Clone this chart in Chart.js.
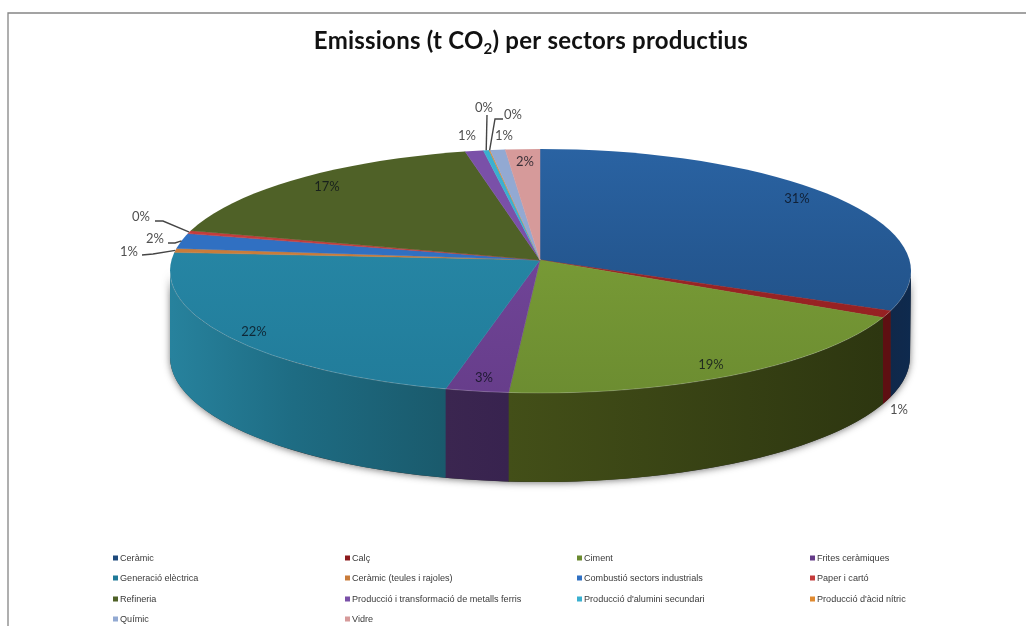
<!DOCTYPE html>
<html>
<head>
<meta charset="utf-8">
<title>Emissions per sectors productius</title>
<script src="https://cdn.jsdelivr.net/npm/chart.js@4"></script>
<style>
  html, body { margin: 0; padding: 0; background: #fff; overflow: hidden; }
  canvas { display: block; filter: blur(0.35px); }
</style>
</head>
<body>
<canvas id="chart" width="1026" height="626"></canvas>
<script>
  // Sectors, in the order the slices run clockwise from the top
  const categories = ['Ceràmic', 'Calç', 'Ciment', 'Frites ceràmiques', 'Generació elèctrica',
    'Ceràmic (teules i rajoles)', 'Combustió sectors industrials', 'Paper i cartó', 'Refineria',
    'Producció i transformació de metalls ferris', "Producció d'alumini secundari",
    "Producció d'àcid nítric", 'Químic', 'Vidre'];
  // Percent of emissions
  const shares = [31.1, 0.85, 19.4, 2.75, 22, 0.6, 2.2, 0.45, 17.4, 0.8, 0.25, 0.05, 0.65, 1.5];

  // Top face colours (back of the pie, front of the pie)
  const faceBack = ['#2b65a6', '#ab3030', '#84a93b', '#7a4ca6', '#2b8fae', '#c97c3a', '#3070c2',
    '#c43c3c', '#4f6127', '#7a50a8', '#3ab0d0', '#e08a30', '#92a9d2', '#d69a9a'];
  const faceFront = ['#1e4a7c', '#8c1a1c', '#6a8a30', '#653c88', '#207a98', '#c97c3a', '#3070c2',
    '#c43c3c', '#4f6127', '#7a50a8', '#3ab0d0', '#e08a30', '#92a9d2', '#d69a9a'];
  // Side wall colours, only the slices that reach the front need them
  const wallStart = ['#0e2a4e', '#5e0f12', '#2d3610', '#38234f', '#1a5a6c'];
  const wallEnd = ['#10284a', '#5e0f12', '#434f18', '#3b2650', '#27829d'];

  // The slices meet at the apex, which sits above the middle of the rim (perspective)
  const APEX_X = 540, APEX_Y = 260;
  const SLOPE_BACK = 0.3, SLOPE_FRONT = 0.36;
  // Rim of the top face and bottom edge of the wall
  const RIM_X = 540.5, RIM_Y = 271, RIM_RX = 370.5, RIM_RY = 122;
  const BOT_X = 540, BOT_Y = 357, BOT_RX = 370, BOT_RY = 125;

  // Label centres, and the bends of the leader lines for the small slices
  const labelPos = [[797, 199], [899, 410], [711, 365], [484, 378], [254, 332], [129, 252], [155, 239],
    [141, 217], [327, 187], [467, 136], [484, 108], [513, 115], [504, 136], [525, 162]];
  const leaderBends = {
    5: [[142, 255], [153, 254]],
    6: [[168, 243], [175, 243]],
    7: [[155, 221], [163, 221]],
    10: [[487, 115]],
    11: [[503, 119], [495, 119]]
  };
  const outsideLabels = [1, 5, 6, 7, 9, 10, 11, 12];

  const legendCols = [115, 347, 579, 812];
  const legendRows = [558, 578, 599, 619];

  // Where the ray from the apex at slice angle a hits the rim, as an ellipse angle
  function rimAngle(a) {
    const dx = Math.cos(a);
    const dy = Math.sin(a) * (Math.sin(a) > 0 ? SLOPE_FRONT : SLOPE_BACK);
    const px = (APEX_X - RIM_X) / RIM_RX, py = (APEX_Y - RIM_Y) / RIM_RY;
    const ux = dx / RIM_RX, uy = dy / RIM_RY;
    const A = ux * ux + uy * uy, B = 2 * (px * ux + py * uy), C = px * px + py * py - 1;
    const s = (-B + Math.sqrt(B * B - 4 * A * C)) / (2 * A);
    let t = Math.atan2(py + s * uy, px + s * ux);
    if (a > Math.PI / 2 && t < 0) t += Math.PI * 2;
    return t;
  }

  function rimPoint(t) {
    return [RIM_X + RIM_RX * Math.cos(t), RIM_Y + RIM_RY * Math.sin(t)];
  }

  function wallPath(ctx, t0, t1) {
    const cosOf = t => Math.max(-1, Math.min(1, (rimPoint(t)[0] - BOT_X) / BOT_RX));
    ctx.beginPath();
    ctx.ellipse(RIM_X, RIM_Y, RIM_RX, RIM_RY, 0, t0, t1);
    ctx.ellipse(BOT_X, BOT_Y, BOT_RX, BOT_RY, 0, Math.acos(cosOf(t1)), Math.acos(cosOf(t0)), true);
    ctx.closePath();
  }

  function drawWalls(ctx, arcs) {
    // soft shadow under the front wall
    ctx.save();
    ctx.shadowColor = 'rgba(50,50,50,0.65)';
    ctx.shadowBlur = 7;
    ctx.shadowOffsetY = 1;
    ctx.fillStyle = '#333';
    wallPath(ctx, 0, Math.PI);
    ctx.fill();
    ctx.restore();

    arcs.forEach((arc, i) => {
      const t0 = Math.max(rimAngle(arc.startAngle), 0);
      const t1 = Math.min(rimAngle(arc.endAngle), Math.PI);
      if (t1 <= t0) return;
      const grad = ctx.createLinearGradient(rimPoint(t0)[0], 0, rimPoint(t1)[0], 0);
      grad.addColorStop(0, wallStart[i]);
      if (i === 4) grad.addColorStop(0.55, '#1e6c83');
      grad.addColorStop(1, wallEnd[i]);
      ctx.fillStyle = grad;
      wallPath(ctx, t0, t1 + 0.002);
      ctx.fill();
    });
  }

  // The back half and the front half are flattened by different amounts so the
  // slice edges fall like in the original, the rim ellipse then trims the outline
  function drawFaces(ctx, arcs) {
    const first = arcs[0];
    const r = first.outerRadius;
    const reach = 450 / r;
    const halves = [
      { y: APEX_Y - 0.25, h: 300, slope: SLOPE_FRONT },
      { y: APEX_Y - 200, h: 200, slope: SLOPE_BACK }
    ];
    ctx.save();
    ctx.beginPath();
    ctx.ellipse(RIM_X, RIM_Y, RIM_RX, RIM_RY, 0, 0, Math.PI * 2);
    ctx.clip();
    halves.forEach(half => {
      ctx.save();
      ctx.beginPath();
      ctx.rect(0, half.y, 1026, half.h);
      ctx.clip();
      ctx.translate(APEX_X, APEX_Y);
      ctx.scale(reach, reach * half.slope);
      ctx.translate(-first.x, -first.y);
      arcs.forEach(arc => arc.draw(ctx));
      ctx.restore();
    });
    ctx.restore();
    // thin light line along the front edge of the top face
    ctx.strokeStyle = 'rgba(255,255,255,0.2)';
    ctx.lineWidth = 1;
    ctx.beginPath();
    ctx.ellipse(RIM_X, RIM_Y, RIM_RX, RIM_RY, 0, 0.05, Math.PI);
    ctx.stroke();
  }

  function drawLabels(ctx, arcs) {
    const total = shares.reduce((a, b) => a + b, 0);
    ctx.strokeStyle = '#454545';
    ctx.lineWidth = 1.4;
    Object.keys(leaderBends).forEach(k => {
      const arc = arcs[k];
      const end = rimPoint(rimAngle((arc.startAngle + arc.endAngle) / 2));
      const pts = leaderBends[k].concat([end]);
      ctx.beginPath();
      pts.forEach((p, n) => n ? ctx.lineTo(p[0], p[1]) : ctx.moveTo(p[0], p[1]));
      ctx.stroke();
    });
    ctx.font = '13px Lato';
    ctx.textAlign = 'center';
    ctx.textBaseline = 'middle';
    shares.forEach((v, i) => {
      ctx.fillStyle = outsideLabels.includes(i) ? '#505050' : 'rgba(10,15,25,0.78)';
      ctx.fillText(Math.round(v / total * 100) + '%', labelPos[i][0], labelPos[i][1]);
    });
  }

  function drawLegend(ctx) {
    ctx.font = '9.1px "Liberation Sans"';
    ctx.textAlign = 'left';
    ctx.textBaseline = 'middle';
    categories.forEach((name, i) => {
      const x = legendCols[i % 4];
      const y = legendRows[Math.floor(i / 4)];
      ctx.fillStyle = faceFront[i];
      ctx.fillRect(x - 2, y - 2.5, 5, 5);
      ctx.fillStyle = '#3a3a3a';
      ctx.fillText(name, x + 5, y);
    });
  }

  function drawTitle(ctx) {
    const before = 'Emissions (t CO', sub = '2', after = ') per sectors productius';
    const big = 'bold 24px Lato', small = 'bold 15px Lato';
    ctx.save();
    ctx.letterSpacing = '0.22px'; // also stops the "ti" ligature
    ctx.textAlign = 'left';
    ctx.textBaseline = 'alphabetic';
    ctx.fillStyle = '#111';
    ctx.font = big;
    const w1 = ctx.measureText(before).width, w3 = ctx.measureText(after).width;
    ctx.font = small;
    const w2 = ctx.measureText(sub).width;
    const x = 531 - (w1 + w2 + w3) / 2;
    ctx.font = big;
    ctx.fillText(before, x, 48.5);
    ctx.font = small;
    ctx.fillText(sub, x + w1, 53.5);
    ctx.font = big;
    ctx.fillText(after, x + w1 + w2, 48.5);
    ctx.restore();
  }

  const pie3d = {
    id: 'pie3d',
    beforeDatasetsDraw(chart) {
      const ctx = chart.ctx;
      const arcs = chart.getDatasetMeta(0).data;

      // frame of the original picture, top and left only
      ctx.strokeStyle = '#858585';
      ctx.lineWidth = 1.3;
      ctx.beginPath();
      ctx.moveTo(8, 626);
      ctx.lineTo(8, 13);
      ctx.lineTo(1026, 13);
      ctx.stroke();

      drawWalls(ctx, arcs);
      drawFaces(ctx, arcs);
      drawLabels(ctx, arcs);
      drawLegend(ctx);
      drawTitle(ctx);
      return false; // slices are already drawn, flattened
    }
  };

  const canvas = document.getElementById('chart');
  const ctx2d = canvas.getContext('2d');

  // vertical gradient for each slice, in the chart's own coordinates
  function faceGradient(i) {
    const g = ctx2d.createLinearGradient(0, 0, 0, 626);
    g.addColorStop(0, faceBack[i]);
    g.addColorStop(1, faceFront[i]);
    return g;
  }

  new Chart(ctx2d, {
    type: 'pie',
    data: {
      labels: categories,
      datasets: [{
        data: shares,
        backgroundColor: shares.map((v, i) => faceGradient(i)),
        borderColor: shares.map((v, i) => faceGradient(i)),
        borderWidth: 0.5
      }]
    },
    options: {
      responsive: false,
      animation: false,
      devicePixelRatio: 1,
      plugins: {
        legend: { display: false },
        title: { display: false },
        tooltip: { enabled: false }
      }
    },
    plugins: [pie3d]
  });
</script>
</body>
</html>
